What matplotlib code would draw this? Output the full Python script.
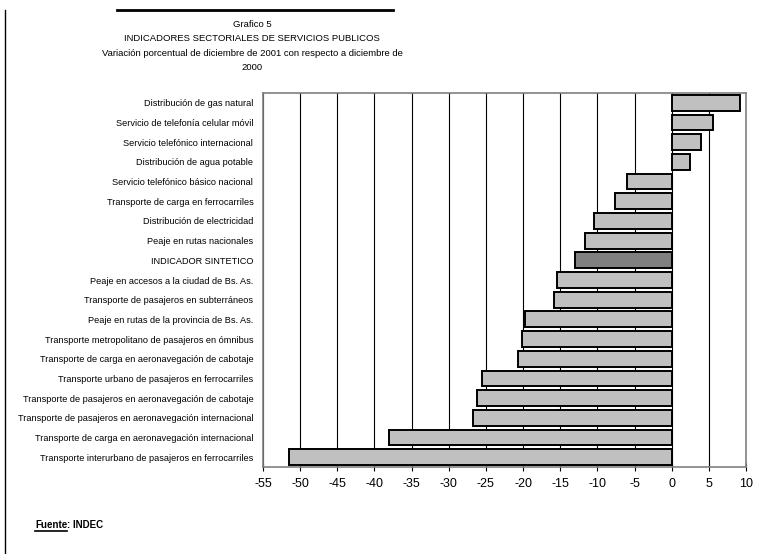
import matplotlib
matplotlib.use("Agg")
import matplotlib.pyplot as plt
from matplotlib.lines import Line2D

categories = [
    "Distribución de gas natural",
    "Servicio de telefonía celular móvil",
    "Servicio telefónico internacional",
    "Distribución de agua potable",
    "Servicio telefónico básico nacional",
    "Transporte de carga en ferrocarriles",
    "Distribución de electricidad",
    "Peaje en rutas nacionales",
    "INDICADOR SINTETICO",
    "Peaje en accesos a la ciudad de Bs. As.",
    "Transporte de pasajeros en subterráneos",
    "Peaje en rutas de la provincia de Bs. As.",
    "Transporte metropolitano de pasajeros en ómnibus",
    "Transporte de carga en aeronavegación de cabotaje",
    "Transporte urbano de pasajeros en ferrocarriles",
    "Transporte de pasajeros en aeronavegación de cabotaje",
    "Transporte de pasajeros en aeronavegación internacional",
    "Transporte de carga en aeronavegación internacional",
    "Transporte interurbano de pasajeros en ferrocarriles",
]
values = [9.2, 5.6, 3.9, 2.4, -6.0, -7.6, -10.5, -11.6, -13.0, -15.5, -15.8,
          -19.8, -20.2, -20.7, -25.5, -26.2, -26.7, -38.0, -51.5]
xticks = list(range(-55, 11, 5))
highlight = "INDICADOR SINTETICO"

fig = plt.figure(figsize=(7.58, 5.54), dpi=100)
ax = fig.add_axes([263/758, 1-467/554, (746-263)/758, (467-93)/554])

n = len(categories)
ypos = [n - 1 - i for i in range(n)]
colors = ["#808080" if c == highlight else "#c0c0c0" for c in categories]
ax.barh(ypos, values, height=0.8, color=colors, edgecolor="black", linewidth=1.4, zorder=3)

ax.set_xlim(-55, 10)
ax.set_ylim(-0.5, n - 0.5)
ax.set_xticks(xticks)
ax.set_xticklabels([str(t) for t in xticks], fontsize=9, family="Liberation Sans")
ax.tick_params(axis="x", direction="inout", length=6, width=0.8, pad=5)
ax.set_yticks(ypos)
ax.set_yticklabels(categories, fontsize=6.6, family="Liberation Sans")
ax.tick_params(axis="y", length=0, pad=7)

for t in xticks:
    ax.axvline(t, color="black", linewidth=0.8, zorder=1)
for s in ax.spines.values():
    s.set_color("#808080")
    s.set_linewidth(1.2)

title = ("Grafico 5\nINDICADORES SECTORIALES DE SERVICIOS PUBLICOS\n"
         "Variación porcentual de diciembre de 2001 con respecto a diciembre de\n2000")
fig.text(252/758, 1-20/554, title, ha="center", va="top", fontsize=6.8,
         family="Liberation Sans", linespacing=1.75)

renderer = fig.canvas.get_renderer()
t1 = fig.text(35/758, 1-525/554, "Fuente", ha="left", va="center", fontsize=7,
              fontweight="bold", family="Liberation Sans")
bb = t1.get_window_extent(renderer=renderer)
x_end = bb.x1 / fig.bbox.width
fig.text(x_end, 1-525/554, ": INDEC", ha="left", va="center", fontsize=7,
         fontweight="bold", family="Liberation Sans")
fig.add_artist(Line2D([35/758, x_end], [1-531/554, 1-531/554], color="black", linewidth=1.2))

fig.add_artist(Line2D([117/758, 393/758], [1-10/554, 1-10/554], color="black", linewidth=2))
fig.add_artist(Line2D([5/758, 5/758], [1-10/554, 0], color="black", linewidth=1))

fig.savefig("out.png", dpi=100)
